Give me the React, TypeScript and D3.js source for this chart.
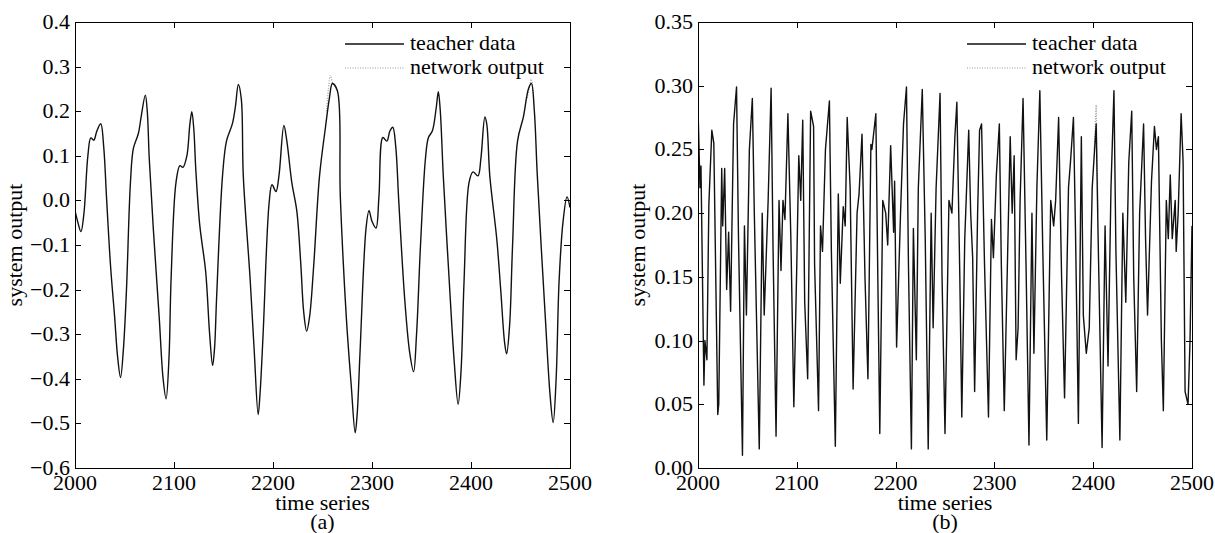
import React, { useEffect, useRef } from "react";
import * as d3 from "d3";

// ---------- Data ----------
const timeTicks = [2000, 2100, 2200, 2300, 2400, 2500];
const yTicksA = [0.4, 0.3, 0.2, 0.1, 0.0, -0.1, -0.2, -0.3, -0.4, -0.5, -0.6];
const yTicksB = [0.35, 0.3, 0.25, 0.2, 0.15, 0.1, 0.05, 0.0];
const legendLabels = ["teacher data", "network output"];

// Panel (a): teacher data
const teacherAx = [2000,2003,2006,2009,2013,2016,2019,2022,2026,2029,2032,2036,2040,2043,2046,2049,2052,2056,2059,2064,2067,2071,2073,2075,2079,2085,2089,2092,2095,2097,2102,2106,2109,2113,2116,2118,2120,2122,2126,2132,2136,2139,2141,2143,2149,2153,2159,2162,2165,2168,2170,2177,2181,2185,2187,2190,2196,2199,2203,2206,2211,2214,2219,2224,2228,2231,2234,2237,2241,2247,2253,2257,2260,2265,2268,2274,2279,2283,2285,2288,2294,2297,2300,2304,2307,2311,2315,2318,2321,2324,2327,2333,2338,2342,2345,2349,2354,2357,2361,2365,2367,2369,2372,2378,2383,2387,2390,2393,2398,2402,2407,2410,2414,2416,2419,2426,2430,2434,2436,2439,2442,2447,2453,2458,2461,2464,2467,2475,2480,2483,2486,2489,2493,2497,2500];
const teacherAy = [-0.023,-0.05,-0.07,-0.03,0.1,0.14,0.135,0.155,0.172,0.12,0.0,-0.15,-0.26,-0.35,-0.397,-0.33,-0.2,0.04,0.117,0.15,0.19,0.236,0.2,0.094,-0.06,-0.26,-0.4,-0.445,-0.35,-0.18,0.04,0.078,0.074,0.1,0.17,0.199,0.16,0.07,-0.055,-0.16,-0.3,-0.37,-0.33,-0.22,0.055,0.133,0.172,0.21,0.26,0.227,0.055,-0.18,-0.336,-0.48,-0.43,-0.3,-0.008,0.035,0.02,0.055,0.168,0.133,0.04,-0.023,-0.14,-0.25,-0.293,-0.26,-0.15,0.055,0.164,0.23,0.262,0.246,0.008,-0.26,-0.414,-0.521,-0.48,-0.336,-0.062,-0.023,-0.047,-0.062,0.008,0.141,0.133,0.155,0.164,0.12,0.0,-0.22,-0.34,-0.384,-0.3,-0.1,0.094,0.141,0.156,0.21,0.244,0.2,0.055,-0.18,-0.36,-0.457,-0.38,-0.18,0.04,0.064,0.055,0.094,0.187,0.17,0.055,-0.086,-0.2,-0.32,-0.344,-0.28,-0.1,0.133,0.188,0.25,0.262,0.2,0.055,-0.26,-0.44,-0.498,-0.4,-0.18,-0.047,0.008,-0.016];
// Panel (a): network output, visible only where it leaves the teacher curve (two peaks)
const networkA1x = [2254, 2256, 2258, 2260];
const networkA1y = [0.2, 0.25, 0.28, 0.262];
const networkA2x = [2457, 2459, 2461, 2463];
const networkA2y = [0.23, 0.255, 0.272, 0.24];

// Panel (b): teacher data
const teacherBx = [2000,2002,2003,2006,2007,2009,2011,2014,2016,2020,2021,2024,2025,2027,2029,2031,2033,2036,2039,2041,2045,2047,2049,2052,2055,2057,2062,2065,2067,2071,2074,2076,2079,2082,2084,2086,2088,2091,2094,2097,2100,2102,2104,2106,2108,2111,2114,2117,2118,2122,2124,2126,2129,2133,2135,2139,2142,2144,2147,2149,2151,2154,2157,2161,2163,2166,2169,2172,2175,2176,2180,2182,2184,2187,2190,2192,2195,2198,2199,2201,2205,2208,2211,2213,2216,2218,2221,2223,2227,2230,2233,2236,2238,2241,2245,2247,2250,2254,2257,2260,2262,2265,2267,2270,2274,2276,2278,2280,2283,2285,2287,2290,2294,2297,2299,2302,2305,2307,2310,2314,2316,2318,2320,2322,2324,2326,2329,2332,2335,2338,2340,2343,2346,2349,2353,2357,2360,2362,2365,2368,2371,2375,2377,2380,2382,2385,2388,2390,2393,2396,2399,2403,2405,2409,2412,2415,2418,2421,2423,2427,2430,2433,2436,2439,2441,2444,2447,2451,2453,2455,2459,2462,2464,2466,2469,2471,2474,2476,2478,2480,2483,2484,2486,2489,2491,2493,2496,2498,2500];
const teacherBy = [0.283,0.22,0.237,0.065,0.1,0.085,0.207,0.265,0.255,0.042,0.05,0.235,0.19,0.235,0.14,0.185,0.123,0.27,0.299,0.18,0.01,0.19,0.12,0.25,0.29,0.2,0.015,0.2,0.12,0.21,0.298,0.17,0.025,0.21,0.155,0.21,0.195,0.278,0.18,0.048,0.16,0.245,0.21,0.273,0.13,0.07,0.28,0.268,0.16,0.045,0.19,0.17,0.25,0.288,0.17,0.017,0.215,0.145,0.205,0.19,0.275,0.22,0.062,0.2,0.215,0.262,0.15,0.07,0.254,0.25,0.278,0.15,0.027,0.21,0.2,0.175,0.253,0.185,0.225,0.095,0.2,0.27,0.299,0.16,0.015,0.188,0.085,0.22,0.297,0.18,0.015,0.2,0.11,0.22,0.294,0.15,0.027,0.21,0.2,0.26,0.287,0.15,0.04,0.18,0.265,0.2,0.165,0.06,0.2,0.265,0.27,0.16,0.04,0.195,0.165,0.23,0.27,0.16,0.045,0.19,0.26,0.2,0.245,0.085,0.11,0.21,0.29,0.16,0.018,0.2,0.09,0.22,0.296,0.17,0.022,0.21,0.19,0.21,0.275,0.15,0.055,0.22,0.24,0.275,0.19,0.035,0.26,0.12,0.09,0.11,0.22,0.27,0.18,0.016,0.19,0.08,0.22,0.296,0.17,0.022,0.2,0.13,0.24,0.28,0.15,0.06,0.2,0.27,0.18,0.12,0.225,0.268,0.25,0.26,0.1,0.045,0.21,0.18,0.23,0.18,0.21,0.17,0.2,0.278,0.24,0.06,0.05,0.1,0.19];
// Panel (b): network output, visible only where it leaves the teacher curve (one peak)
const networkB1x = [2401, 2403, 2405];
const networkB1y = [0.25, 0.285, 0.2];

const FONT = "'Liberation Serif', 'Times New Roman', Times, serif";
const FS = 22;

type Seg = { x: number[]; y: number[] };
type PanelCfg = {
  left: number; right: number; top: number; bottom: number;
  yDomain: [number, number]; yTicks: number[]; yFmt: (v: number) => string;
  teacher: Seg; network: Seg[];
  curve: d3.CurveFactory; label: string;
};

function drawPanel(svg: d3.Selection<SVGSVGElement, unknown, null, undefined>, c: PanelCfg) {
  const x = d3.scaleLinear().domain([2000, 2500]).range([c.left, c.right]);
  const y = d3.scaleLinear().domain(c.yDomain).range([c.bottom, c.top]);
  const g = svg.append("g");
  const clipId = "clip" + c.label.replace(/\W/g, "");
  g.append("clipPath").attr("id", clipId).append("rect")
    .attr("x", c.left).attr("y", c.top).attr("width", c.right - c.left).attr("height", c.bottom - c.top);

  const toPts = (s: Seg) => s.x.map((v, i) => [v, s.y[i]] as [number, number]);
  const line = d3.line<[number, number]>().x(d => x(d[0])).y(d => y(d[1])).curve(c.curve);

  const plot = g.append("g").attr("clip-path", `url(#${clipId})`);
  c.network.forEach(s => {
    plot.append("path").attr("d", line(toPts(s))).attr("fill", "none")
      .attr("stroke", "#999").attr("stroke-width", 1.2).attr("stroke-dasharray", "1,1.5");
  });
  plot.append("path").attr("d", line(toPts(c.teacher))).attr("fill", "none")
    .attr("stroke", "#111").attr("stroke-width", 1.4).attr("stroke-linejoin", "round");

  // frame
  g.append("rect").attr("x", c.left + 0.5).attr("y", c.top + 0.5).attr("width", c.right - c.left)
    .attr("height", c.bottom - c.top).attr("fill", "none").attr("stroke", "#000").attr("stroke-width", 1);

  const tl = 6;
  timeTicks.forEach(t => {
    const px = Math.round(x(t)) + 0.5;
    g.append("line").attr("x1", px).attr("x2", px).attr("y1", c.bottom).attr("y2", c.bottom - tl).attr("stroke", "#000");
    g.append("line").attr("x1", px).attr("x2", px).attr("y1", c.top).attr("y2", c.top + tl).attr("stroke", "#000");
    g.append("text").attr("x", x(t)).attr("y", c.bottom + 22).attr("text-anchor", "middle")
      .attr("font-family", FONT).attr("font-size", FS).text(String(t));
  });
  c.yTicks.forEach(t => {
    const py = Math.round(y(t)) + 0.5;
    g.append("line").attr("x1", c.left).attr("x2", c.left + tl).attr("y1", py).attr("y2", py).attr("stroke", "#000");
    g.append("line").attr("x1", c.right).attr("x2", c.right - tl).attr("y1", py).attr("y2", py).attr("stroke", "#000");
    g.append("text").attr("x", c.left - 5).attr("y", y(t) + 7).attr("text-anchor", "end")
      .attr("font-family", FONT).attr("font-size", FS).text(c.yFmt(t));
  });
  g.append("text").attr("x", (c.left + c.right) / 2).attr("y", c.bottom + 42).attr("text-anchor", "middle")
    .attr("font-family", FONT).attr("font-size", FS).text("time series");
  g.append("text").attr("x", (c.left + c.right) / 2).attr("y", c.bottom + 61).attr("text-anchor", "middle")
    .attr("font-family", FONT).attr("font-size", FS).text(c.label);
  g.append("text").attr("transform", `translate(${c.left - 53},${(c.top + c.bottom) / 2}) rotate(-90)`)
    .attr("text-anchor", "middle").attr("font-family", FONT).attr("font-size", FS).text("system output");

  // legend
  const lx0 = c.right - 225, lx1 = c.right - 166;
  [0, 1].forEach(i => {
    const ly = c.top + 22 + i * 24;
    g.append("line").attr("x1", lx0).attr("x2", lx1).attr("y1", ly).attr("y2", ly)
      .attr("stroke", i === 0 ? "#111" : "#999").attr("stroke-width", i === 0 ? 1.4 : 1.2)
      .attr("stroke-dasharray", i === 0 ? null : "1,1.5");
    g.append("text").attr("x", lx1 + 6).attr("y", ly + 6).attr("font-family", FONT).attr("font-size", FS)
      .text(legendLabels[i]);
  });
}

export default function App() {
  const ref = useRef<SVGSVGElement>(null);
  useEffect(() => {
    const svg = d3.select(ref.current!);
    svg.selectAll("*").remove();
    svg.append("rect").attr("width", 1215).attr("height", 533).attr("fill", "#fff");
    const top = 22, bottom = 468;
    drawPanel(svg, {
      left: 75, right: 570, top, bottom, yDomain: [-0.6, 0.4], yTicks: yTicksA,
      yFmt: v => (v < 0 ? "\u2212" + Math.abs(v).toFixed(1) : v.toFixed(1)),
      teacher: { x: teacherAx, y: teacherAy },
      network: [{ x: networkA1x, y: networkA1y }, { x: networkA2x, y: networkA2y }],
      curve: d3.curveCatmullRom.alpha(0.5), label: "(a)",
    });
    drawPanel(svg, {
      left: 698, right: 1192, top, bottom, yDomain: [0, 0.35], yTicks: yTicksB,
      yFmt: v => v.toFixed(2),
      teacher: { x: teacherBx, y: teacherBy },
      network: [{ x: networkB1x, y: networkB1y }],
      curve: d3.curveLinear, label: "(b)",
    });
  }, []);
  return <svg ref={ref} width={1215} height={533} style={{ position: "absolute", left: 0, top: 0, display: "block" }} />;
}
